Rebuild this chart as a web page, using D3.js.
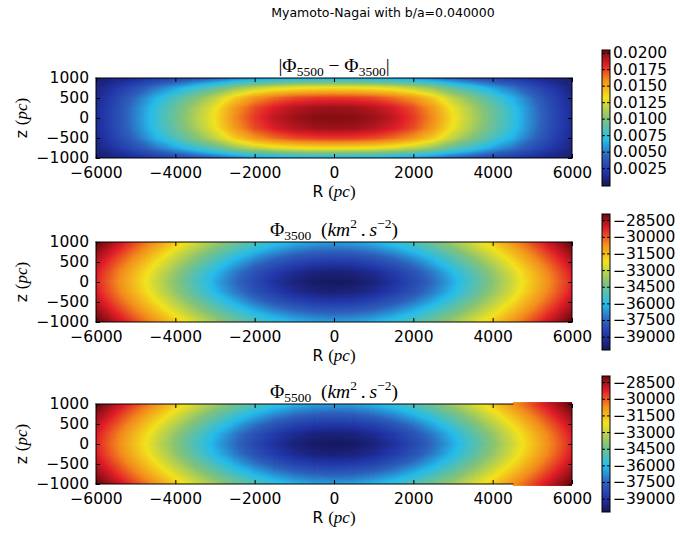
<!DOCTYPE html>
<html><head><meta charset="utf-8">
<script src="https://cdn.jsdelivr.net/npm/d3@7"></script>
<style>
body{margin:0;background:#fff}
svg{display:block}
text{font-family:"DejaVu Sans",sans-serif;fill:#000}
.math{font-family:"Liberation Serif","DejaVu Serif",serif}
</style>
</head><body>
<svg id="chart" width="680" height="535"></svg>
<script>
// ---------------- data ----------------
const TITLE = "Myamoto-Nagai with b/a=0.040000";
const R_VALUES = [-6000,-5500,-5000,-4500,-4000,-3500,-3000,-2500,-2000,-1500,-1000,-500,0,500,1000,1500,2000,2500,3000,3500,4000,4500,5000,5500,6000];
const Z_VALUES = [1000,750,500,250,0,-250,-500,-750,-1000];
const X_TICKS = [-6000,-4000,-2000,0,2000,4000,6000];
const Z_TICKS = [-1000,-500,0,500,1000];
const DIFF_CB_TICKS = [0.0025,0.0050,0.0075,0.0100,0.0125,0.0150,0.0175,0.0200];
const PHI_CB_TICKS = [-39000,-37500,-36000,-34500,-33000,-31500,-30000,-28500];
const DIFF_RANGE = [-0.0002, 0.0204];
const PHI3500_RANGE = [-40200, -27950];
const PHI5500_RANGE = [-40200, -27950];

// |Phi5500 - Phi3500| ; rows = Z_VALUES, columns = R_VALUES
const DIFF_ROWS = [
 [0.0005,0.0010,0.0016,0.0022,0.0028,0.0034,0.0040,0.0047,0.0053,0.0056,0.0058,0.0060,0.0060,0.0060,0.0058,0.0056,0.0053,0.0047,0.0040,0.0034,0.0028,0.0022,0.0016,0.0010,0.0005],
 [0.0009,0.0021,0.0034,0.0049,0.0061,0.0075,0.0088,0.0104,0.0116,0.0124,0.0129,0.0131,0.0132,0.0131,0.0129,0.0124,0.0116,0.0104,0.0088,0.0075,0.0061,0.0049,0.0034,0.0021,0.0009],
 [0.0012,0.0028,0.0046,0.0065,0.0082,0.0099,0.0117,0.0139,0.0155,0.0165,0.0172,0.0175,0.0176,0.0175,0.0172,0.0165,0.0155,0.0139,0.0117,0.0099,0.0082,0.0065,0.0046,0.0028,0.0012],
 [0.0014,0.0031,0.0051,0.0072,0.0091,0.0110,0.0130,0.0154,0.0172,0.0183,0.0190,0.0194,0.0195,0.0194,0.0190,0.0183,0.0172,0.0154,0.0130,0.0110,0.0091,0.0072,0.0051,0.0031,0.0014],
 [0.0014,0.0032,0.0052,0.0074,0.0093,0.0113,0.0133,0.0158,0.0176,0.0188,0.0195,0.0199,0.0200,0.0199,0.0195,0.0188,0.0176,0.0158,0.0133,0.0113,0.0093,0.0074,0.0052,0.0032,0.0014],
 [0.0014,0.0031,0.0051,0.0072,0.0091,0.0110,0.0130,0.0154,0.0172,0.0183,0.0190,0.0194,0.0195,0.0194,0.0190,0.0183,0.0172,0.0154,0.0130,0.0110,0.0091,0.0072,0.0051,0.0031,0.0014],
 [0.0012,0.0028,0.0046,0.0065,0.0082,0.0099,0.0117,0.0139,0.0155,0.0165,0.0172,0.0175,0.0176,0.0175,0.0172,0.0165,0.0155,0.0139,0.0117,0.0099,0.0082,0.0065,0.0046,0.0028,0.0012],
 [0.0009,0.0021,0.0034,0.0049,0.0061,0.0075,0.0088,0.0104,0.0116,0.0124,0.0129,0.0131,0.0132,0.0131,0.0129,0.0124,0.0116,0.0104,0.0088,0.0075,0.0061,0.0049,0.0034,0.0021,0.0009],
 [0.0005,0.0010,0.0016,0.0022,0.0028,0.0034,0.0040,0.0047,0.0053,0.0056,0.0058,0.0060,0.0060,0.0060,0.0058,0.0056,0.0053,0.0047,0.0040,0.0034,0.0028,0.0022,0.0016,0.0010,0.0005]
];

// Phi_3500 (km^2 s^-2)
const PHI3500_ROWS = [
 [-27857,-28835,-29825,-30814,-31787,-32727,-33614,-34422,-35130,-35711,-36144,-36412,-36502,-36412,-36144,-35711,-35130,-34422,-33614,-32727,-31787,-30814,-29825,-28835,-27857],
 [-28367,-29402,-30453,-31508,-32551,-33563,-34520,-35399,-36169,-36804,-37279,-37573,-37671,-37573,-37279,-36804,-36169,-35399,-34520,-33563,-32551,-31508,-30453,-29402,-28367],
 [-28837,-29926,-31037,-32156,-33267,-34350,-35378,-36325,-37159,-37849,-38366,-38687,-38796,-38687,-38366,-37849,-37159,-36325,-35378,-34350,-33267,-32156,-31037,-29926,-28837],
 [-29208,-30341,-31501,-32673,-33840,-34982,-36070,-37075,-37963,-38699,-39253,-39596,-39713,-39596,-39253,-38699,-37963,-37075,-36070,-34982,-33840,-32673,-31501,-30341,-29208],
 [-29362,-30514,-31694,-32888,-34081,-35247,-36361,-37392,-38303,-39059,-39629,-39982,-40101,-39982,-39629,-39059,-38303,-37392,-36361,-35247,-34081,-32888,-31694,-30514,-29362],
 [-29208,-30341,-31501,-32673,-33840,-34982,-36070,-37075,-37963,-38699,-39253,-39596,-39713,-39596,-39253,-38699,-37963,-37075,-36070,-34982,-33840,-32673,-31501,-30341,-29208],
 [-28837,-29926,-31037,-32156,-33267,-34350,-35378,-36325,-37159,-37849,-38366,-38687,-38796,-38687,-38366,-37849,-37159,-36325,-35378,-34350,-33267,-32156,-31037,-29926,-28837],
 [-28367,-29402,-30453,-31508,-32551,-33563,-34520,-35399,-36169,-36804,-37279,-37573,-37671,-37573,-37279,-36804,-36169,-35399,-34520,-33563,-32551,-31508,-30453,-29402,-28367],
 [-27857,-28835,-29825,-30814,-31787,-32727,-33614,-34422,-35130,-35711,-36144,-36412,-36502,-36412,-36144,-35711,-35130,-34422,-33614,-32727,-31787,-30814,-29825,-28835,-27857]
];

// Phi_5500 (km^2 s^-2)
const PHI5500_ROWS = [
 [-27857,-28835,-29825,-30814,-31787,-32727,-33614,-34422,-35130,-35711,-36144,-36412,-36502,-36412,-36144,-35711,-35130,-34422,-33614,-32727,-31787,-30814,-29825,-28835,-27857],
 [-28367,-29402,-30453,-31508,-32551,-33563,-34520,-35399,-36169,-36804,-37279,-37573,-37671,-37573,-37279,-36804,-36169,-35399,-34520,-33563,-32551,-31508,-30453,-29402,-28367],
 [-28837,-29926,-31037,-32156,-33267,-34350,-35378,-36325,-37159,-37849,-38366,-38687,-38796,-38687,-38366,-37849,-37159,-36325,-35378,-34350,-33267,-32156,-31037,-29926,-28837],
 [-29208,-30341,-31501,-32673,-33840,-34982,-36070,-37075,-37963,-38699,-39253,-39596,-39713,-39596,-39253,-38699,-37963,-37075,-36070,-34982,-33840,-32673,-31501,-30341,-29208],
 [-29362,-30514,-31694,-32888,-34081,-35247,-36361,-37392,-38303,-39059,-39629,-39982,-40101,-39982,-39629,-39059,-38303,-37392,-36361,-35247,-34081,-32888,-31694,-30514,-29362],
 [-29208,-30341,-31501,-32673,-33840,-34982,-36070,-37075,-37963,-38699,-39253,-39596,-39713,-39596,-39253,-38699,-37963,-37075,-36070,-34982,-33840,-32673,-31501,-30341,-29208],
 [-28837,-29926,-31037,-32156,-33267,-34350,-35378,-36325,-37159,-37849,-38366,-38687,-38796,-38687,-38366,-37849,-37159,-36325,-35378,-34350,-33267,-32156,-31037,-29926,-28837],
 [-28367,-29402,-30453,-31508,-32551,-33563,-34520,-35399,-36169,-36804,-37279,-37573,-37671,-37573,-37279,-36804,-36169,-35399,-34520,-33563,-32551,-31508,-30453,-29402,-28367],
 [-27857,-28835,-29825,-30814,-31787,-32727,-33614,-34422,-35130,-35711,-36144,-36412,-36502,-36412,-36144,-35711,-35130,-34422,-33614,-32727,-31787,-30814,-29825,-28835,-27857]
];

// ---------------- rendering ----------------
const svg = d3.select("#chart");
const PLOT_X0 = 96, PLOT_X1 = 572;
const PLOT_H = 80;
const CB_X = 602, CB_W = 8, CB_H = 136;
const FS = 15.5;

// jet-like colormap (as it appears in the picture)
const CMAP_POS = [0, 0.11, 0.22, 0.34, 0.5, 0.65, 0.78, 0.89, 1];
const CMAP_COL = ["#16165a","#2337a8","#2f63bd","#27bdeb","#86c378","#f3e21e","#f38c1e","#e1202a","#6e0a0f"];
const cmap = d3.scaleLinear().domain(CMAP_POS).range(CMAP_COL).interpolate(d3.interpolateRgb).clamp(true);

const defs = svg.append("defs");
const grad = defs.append("linearGradient").attr("id","jetgrad")
  .attr("x1",0).attr("y1",1).attr("x2",0).attr("y2",0);
d3.range(0,101).forEach(i => grad.append("stop").attr("offset", i/100).attr("stop-color", cmap(i/100)));

svg.append("text").attr("x", 383).attr("y", 17).attr("text-anchor","middle")
  .style("font-size","12.5px").text(TITLE);

const panels = [
  {rows: DIFF_ROWS, range: DIFF_RANGE, ticks: DIFF_CB_TICKS, fmt: d3.format(".4f"), top: 78, kind: "diff"},
  {rows: PHI3500_ROWS, range: PHI3500_RANGE, ticks: PHI_CB_TICKS, fmt: d3.format("d"), top: 242, kind: "p3500"},
  {rows: PHI5500_ROWS, range: PHI5500_RANGE, ticks: PHI_CB_TICKS, fmt: d3.format("d"), top: 404, kind: "p5500"}
];

const nx = R_VALUES.length, ny = Z_VALUES.length;
const dR = R_VALUES[1]-R_VALUES[0], dZ = Z_VALUES[0]-Z_VALUES[1];
const NOTCH_X = 513; // in the last panel the image covers the frame right of this point

panels.forEach((p, pi) => {
  const x = d3.scaleLinear().domain([-6000, 6000]).range([PLOT_X0, PLOT_X1]);
  const y = d3.scaleLinear().domain([-1000, 1000]).range([p.top + PLOT_H, p.top]);
  const c = d3.scaleLinear().domain(p.range).range([0,1]).clamp(true);
  const g = svg.append("g");
  const bottom = p.top + PLOT_H;
  const notch = p.kind === "p5500";

  const cp = defs.append("clipPath").attr("id","clip"+pi);
  cp.append("rect").attr("x", PLOT_X0).attr("y", p.top).attr("width", PLOT_X1-PLOT_X0).attr("height", PLOT_H);
  if (notch) cp.append("rect").attr("x", NOTCH_X).attr("y", p.top-1.5).attr("width", PLOT_X1-NOTCH_X).attr("height", PLOT_H+3);

  const values = p.rows.flat();
  const N = 220;
  const thr = d3.range(N+1).map(i => p.range[0] + (p.range[1]-p.range[0])*i/N);
  const contours = d3.contours().size([nx, ny]).thresholds(thr)(values);
  const proj = d3.geoTransform({point: function(gx, gy) {
    const R = R_VALUES[0] + (gx - 0.5)*dR;
    const Z = Z_VALUES[0] - (gy - 0.5)*dZ;
    this.stream.point(x(R), y(Z));
  }});
  const path = d3.geoPath(proj);
  const step = (p.range[1]-p.range[0])/N;
  g.append("g").attr("clip-path", `url(#clip${pi})`)
    .selectAll("path").data(contours).join("path")
    .attr("d", path)
    .attr("fill", d => cmap(c(d.value + step/2)))
    .attr("stroke", d => cmap(c(d.value + step/2)))
    .attr("stroke-width", 0.4);

  const fmt = d3.format("d");
  const ax = (gen, tr) => {
    const a = g.append("g").attr("transform", tr).call(gen);
    a.select(".domain").remove();
    a.selectAll("line").attr("stroke","#000");
    a.selectAll("text").style("font-size", FS+"px").style("font-family","DejaVu Sans");
    return a;
  };
  ax(d3.axisBottom(x).tickValues(X_TICKS).tickFormat(fmt).tickSize(-4).tickPadding(9), `translate(0,${bottom})`);
  ax(d3.axisTop(x).tickValues(X_TICKS).tickFormat("").tickSize(-4), `translate(0,${p.top})`);
  ax(d3.axisLeft(y).tickValues(Z_TICKS).tickFormat(fmt).tickSize(-4).tickPadding(7), `translate(${PLOT_X0},0)`);
  ax(d3.axisRight(y).tickValues(Z_TICKS).tickFormat("").tickSize(-4), `translate(${PLOT_X1},0)`);

  // frame
  const hx = notch ? NOTCH_X : PLOT_X1;
  const frame = [
    [PLOT_X0, p.top, hx, p.top], [PLOT_X0, bottom, hx, bottom],
    [PLOT_X0, p.top, PLOT_X0, bottom], [PLOT_X1, p.top, PLOT_X1, bottom]
  ];
  g.selectAll(".frame").data(frame).join("line").attr("class","frame")
    .attr("x1", d => d[0]).attr("y1", d => d[1]).attr("x2", d => d[2]).attr("y2", d => d[3])
    .attr("stroke","#000").attr("stroke-width",1).attr("stroke-linecap","square");

  const xl = g.append("text").attr("x", (PLOT_X0+PLOT_X1)/2).attr("y", bottom+39)
    .attr("text-anchor","middle").style("font-size", FS+"px");
  xl.append("tspan").text("R ");
  xl.append("tspan").attr("class","math").style("font-size","17px").text("(");
  xl.append("tspan").attr("class","math").style("font-size","17px").style("font-style","italic").text("pc");
  xl.append("tspan").attr("class","math").style("font-size","17px").text(")");

  const cy = p.top + PLOT_H/2;
  const zl = g.append("text").attr("transform", `translate(27,${cy}) rotate(-90)`)
    .attr("text-anchor","middle").style("font-size", FS+"px");
  zl.append("tspan").text("z ");
  zl.append("tspan").attr("class","math").style("font-size","17px").text("(");
  zl.append("tspan").attr("class","math").style("font-size","17px").style("font-style","italic").text("pc");
  zl.append("tspan").attr("class","math").style("font-size","17px").text(")");

  const t = g.append("text").attr("class","math").attr("x", (PLOT_X0+PLOT_X1)/2).attr("y", p.top-6)
    .attr("text-anchor","middle").style("font-size","19.5px");
  const SUB = "13.5px";
  if (p.kind === "diff") {
    t.append("tspan").text("|Φ");
    t.append("tspan").attr("dy", 4).style("font-size",SUB).text("5500");
    t.append("tspan").attr("dy", -4).text(" − Φ");
    t.append("tspan").attr("dy", 4).style("font-size",SUB).text("3500");
    t.append("tspan").attr("dy", -4).text("|");
  } else {
    t.append("tspan").text("Φ");
    t.append("tspan").attr("dy", 4).style("font-size",SUB).text(p.kind === "p3500" ? "3500" : "5500");
    t.append("tspan").attr("dy", -4).text("\u2002(");
    t.append("tspan").style("font-style","italic").text("km");
    t.append("tspan").attr("dy", -8).style("font-size",SUB).text("2");
    t.append("tspan").attr("dy", 8).text("\u2009.\u2009");
    t.append("tspan").style("font-style","italic").text("s");
    t.append("tspan").attr("dy", -8).style("font-size",SUB).text("−2");
    t.append("tspan").attr("dy", 8).text(")");
  }

  const cbTop = cy - CB_H/2;
  const cs = d3.scaleLinear().domain(p.range).range([cbTop + CB_H, cbTop]);
  g.append("rect").attr("x", CB_X).attr("y", cbTop).attr("width", CB_W).attr("height", CB_H)
    .attr("fill","url(#jetgrad)").attr("stroke","#000").attr("stroke-width",1);
  const cba = g.append("g").attr("transform", `translate(${CB_X+CB_W},0)`)
    .call(d3.axisRight(cs).tickValues(p.ticks).tickFormat(p.fmt).tickSize(-3).tickPadding(3));
  cba.select(".domain").remove();
  cba.selectAll("line").attr("stroke","#000");
  cba.selectAll("text").style("font-size", FS+"px").style("font-family","DejaVu Sans");
  g.append("g").attr("transform", `translate(${CB_X},0)`)
    .call(d3.axisRight(cs).tickValues(p.ticks).tickFormat("").tickSize(3))
    .call(a => { a.select(".domain").remove(); a.selectAll("line").attr("stroke","#000"); });
});
</script>
</body></html>
